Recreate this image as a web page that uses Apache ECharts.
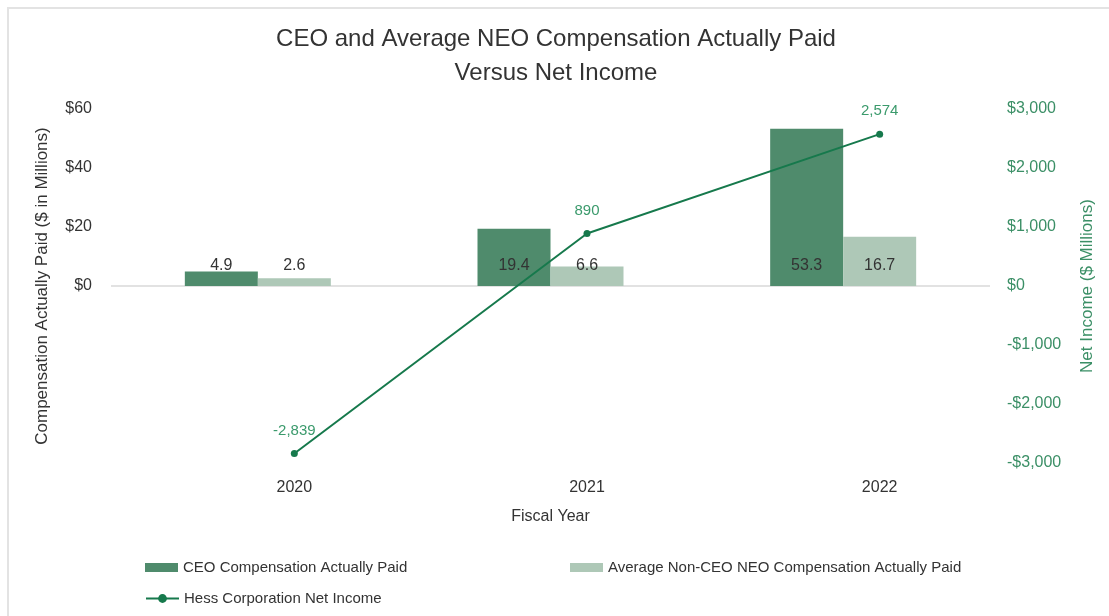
<!DOCTYPE html>
<html>
<head>
<meta charset="utf-8">
<script src="https://cdn.jsdelivr.net/npm/echarts@6/dist/echarts.min.js"></script>
<style>
html,body{margin:0;padding:0;background:#fff;}
#chart{width:1109px;height:616px;}
</style>
</head>
<body>
<div id="chart"></div>
<script>
var categories = ['2020', '2021', '2022'];
var ceoPay = [4.9, 19.4, 53.3];
var neoPay = [2.6, 6.6, 16.7];
var netIncome = [-2839, 890, 2574];
var leftTicks = [0, 20, 40, 60];
var rightTicks = [-3000, -2000, -1000, 0, 1000, 2000, 3000];

var FONT = 'Liberation Sans, Arial, sans-serif';
var chart = echarts.init(document.getElementById('chart'));

function fmtMoney(v) {
  var s = Math.abs(v).toLocaleString('en-US');
  return (v < 0 ? '-$' : '$') + s;
}
var T = 'rgba(0,0,0,0)';

chart.setOption({
  backgroundColor: '#fff',
  textStyle: { fontFamily: FONT },
  title: {
    text: 'CEO and Average NEO Compensation Actually Paid\nVersus Net Income',
    left: 551, textAlign: 'center',
    top: 17,
    textStyle: { fontFamily: FONT, fontSize: 24, fontWeight: 'normal', color: '#333', lineHeight: 34 }
  },
  legend: [
    { left: 140, top: 555, itemWidth: 33, itemHeight: 9, icon: 'rect', data: ['CEO Compensation Actually Paid'],
      textStyle: { fontFamily: FONT, fontSize: 15, color: '#333' } },
    { left: 565, top: 555, itemWidth: 33, itemHeight: 9, icon: 'rect', data: ['Average Non-CEO NEO Compensation Actually Paid'],
      textStyle: { fontFamily: FONT, fontSize: 15, color: '#333' } },
    { left: 140, top: 586, itemWidth: 33, itemHeight: 11, data: ['Hess Corporation Net Income'],
      textStyle: { fontFamily: FONT, fontSize: 15, color: '#333' } }
  ],
  grid: [
    { left: 148, right: 83, top: 109, bottom: 153 },
    { left: 111, right: 119, top: 109, bottom: 153 }
  ],
  xAxis: [
    { type: 'category', gridIndex: 0, data: categories,
      axisLine: { show: false }, axisTick: { show: false },
      axisLabel: { color: '#333', fontSize: 16, margin: 17, fontFamily: FONT } },
    { type: 'category', gridIndex: 1, data: categories, position: 'bottom',
      axisLine: { show: false, onZero: false },
      axisTick: { show: false }, axisLabel: { show: false },
      name: 'Fiscal Year', nameLocation: 'middle', nameGap: 46,
      nameTextStyle: { color: '#333', fontSize: 16, fontFamily: FONT } }
  ],
  yAxis: [
    { type: 'value', gridIndex: 0, min: -60, max: 60, interval: 20, offset: 48,
      axisLine: { show: false }, axisTick: { show: false }, splitLine: { show: false },
      axisLabel: { color: '#333', fontSize: 16, fontFamily: FONT,
        formatter: function (v) { return leftTicks.indexOf(v) >= 0 ? '$' + v : ''; } },
      name: 'Compensation Actually Paid ($ in Millions)', nameLocation: 'middle', nameGap: 49,
      nameTextStyle: { color: '#333', fontSize: 17, fontFamily: FONT } },
    { type: 'value', gridIndex: 0, position: 'right', min: -3000, max: 3000, interval: 1000, offset: -27,
      axisLine: { show: false }, axisTick: { show: false }, splitLine: { show: false },
      axisLabel: { color: '#3b8f66', fontSize: 16, fontFamily: FONT,
        formatter: function (v) { return rightTicks.indexOf(v) >= 0 ? fmtMoney(v) : ''; } },
      name: 'Net Income ($ Millions)', nameLocation: 'middle', nameGap: 80,
      nameTextStyle: { color: '#3b8f66', fontSize: 17, fontFamily: FONT } },
    { type: 'value', gridIndex: 1, min: -60, max: 60, interval: 20,
      axisLine: { show: false }, axisTick: { show: false }, axisLabel: { show: false },
      splitLine: { show: true, lineStyle: { color: [T, T, T, '#d9d9d9', T, T, T], width: 1.5 } } }
  ],
  series: [
    { name: 'CEO Compensation Actually Paid', type: 'bar', xAxisIndex: 0, yAxisIndex: 0,
      data: ceoPay, barWidth: 73, barGap: '0%', z: 3,
      itemStyle: { color: '#4f8b6c' },
      label: { show: true, position: 'insideBottom', distance: 12, color: '#333', fontSize: 16, fontFamily: FONT } },
    { name: 'Average Non-CEO NEO Compensation Actually Paid', type: 'bar', xAxisIndex: 0, yAxisIndex: 0,
      data: neoPay, barWidth: 73, barGap: '0%', z: 3,
      itemStyle: { color: '#aec8b7' },
      label: { show: true, position: 'insideBottom', distance: 12, color: '#333', fontSize: 16, fontFamily: FONT } },
    { name: 'slot', type: 'bar', xAxisIndex: 0, yAxisIndex: 0,
      data: ['-', '-', '-'], barWidth: 73, barGap: '0%', silent: true },
    { name: 'Hess Corporation Net Income', type: 'line', xAxisIndex: 0, yAxisIndex: 1,
      data: netIncome, symbol: 'circle', symbolSize: 7, z: 5,
      lineStyle: { color: '#16794c', width: 2 }, itemStyle: { color: '#16794c' },
      label: { show: true, position: 'top', distance: 12, color: '#3b9a6c', fontSize: 15, fontFamily: FONT,
        formatter: function (p) { return p.value.toLocaleString('en-US'); } } }
  ],
  graphic: [
    { type: 'line', shape: { x1: 7, y1: 8, x2: 1109, y2: 8 }, style: { stroke: '#e3e3e3', lineWidth: 2 }, silent: true },
    { type: 'line', shape: { x1: 8, y1: 7, x2: 8, y2: 616 }, style: { stroke: '#e3e3e3', lineWidth: 2 }, silent: true }
  ]
});
</script>
</body>
</html>
